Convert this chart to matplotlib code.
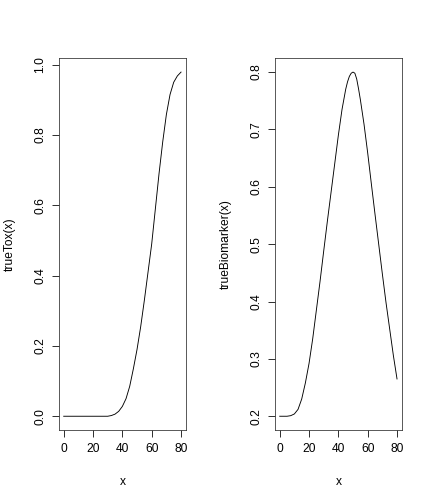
import matplotlib
matplotlib.use("Agg")
import matplotlib.pyplot as plt

plt.rcParams['font.family'] = ['Liberation Sans', 'DejaVu Sans']
plt.rcParams['font.size'] = 12

# values
x_tox = [0, 2.5, 5, 7.5, 10, 12.5, 15, 17.5, 20, 22.5, 25, 27.5, 30, 32.5, 35, 37.5,
         40, 42.5, 45, 47.5, 50, 52.5, 55, 57.5, 60, 62.5, 65, 67.5, 70, 72.5, 75, 77.5, 80]
true_tox = [0.000, 0.000, 0.000, 0.000, 0.000, 0.000, 0.000, 0.000, 0.000, 0.000,
            0.000, 0.000, 0.000, 0.002, 0.006, 0.014, 0.028, 0.050, 0.085, 0.135,
            0.190, 0.255, 0.330, 0.410, 0.490, 0.590, 0.690, 0.780, 0.858, 0.915,
            0.950, 0.968, 0.979]

x_bio = [0, 2.5, 5, 7.5, 10, 12.5, 15, 17.5, 20, 22.5, 25, 27.5, 30, 32.5, 35, 37.5,
         40, 42.5, 45, 46.25, 47.5, 48.75, 50, 51.25, 52.5, 53.75, 55, 57.5, 60, 62.5,
         65, 67.5, 70, 72.5, 75, 77.5, 80]
true_biomarker = [0.200, 0.200, 0.200, 0.201, 0.204, 0.212, 0.230, 0.258, 0.292, 0.335,
                  0.385, 0.435, 0.488, 0.540, 0.590, 0.640, 0.690, 0.735, 0.770, 0.783,
                  0.7925, 0.798, 0.800, 0.798, 0.788, 0.771, 0.752, 0.709, 0.659, 0.605,
                  0.552, 0.500, 0.448, 0.398, 0.352, 0.306, 0.265]

x_ticks = [0, 20, 40, 60, 80]
tox_ticks = [0.0, 0.2, 0.4, 0.6, 0.8, 1.0]
bio_ticks = [0.2, 0.3, 0.4, 0.5, 0.6, 0.7, 0.8]

fig = plt.figure(figsize=(6, 7), dpi=72)
ax1 = fig.add_axes([0.1366, 0.1468, 0.2933, 0.7375])
ax2 = fig.add_axes([0.6366, 0.1468, 0.2933, 0.7375])


def r_style(ax, xs, y, ylab, yticks):
    ax.plot(xs, y, color='black', lw=0.9)
    lo, hi = min(y), max(y)
    pad = 0.04 * (hi - lo)
    ax.set_ylim(lo - pad, hi + pad)
    ax.set_xlim(-3.2, 83.2)
    ax.set_xticks(x_ticks)
    ax.set_yticks(yticks)
    ax.set_yticklabels([f"{t:.1f}" for t in yticks], rotation=90, va='center')
    ax.tick_params(direction='out', length=7, width=0.8, colors='black')
    ax.tick_params(axis='x', pad=6)
    ax.tick_params(axis='y', pad=6)
    for s in ax.spines.values():
        s.set_linewidth(0.8)
        s.set_color('#333333')
    ax.set_xlabel('x', va='center')
    ax.set_ylabel(ylab, va='center')
    ax.xaxis.set_label_coords(0.5, -0.139)
    ax.yaxis.set_label_coords(-0.39, 0.5)


r_style(ax1, x_tox, true_tox, 'trueTox(x)', tox_ticks)
r_style(ax2, x_bio, true_biomarker, 'trueBiomarker(x)', bio_ticks)

fig.savefig('out.png', dpi=72)
